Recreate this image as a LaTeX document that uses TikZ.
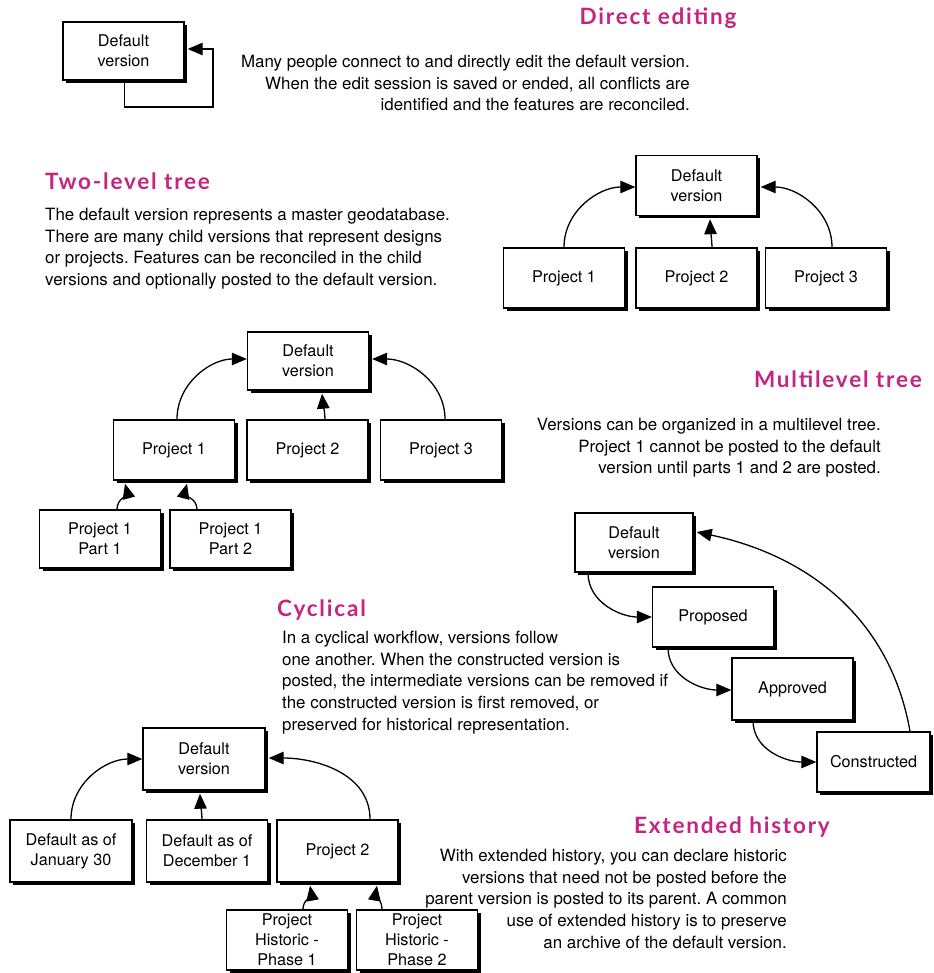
\documentclass[tikz,border=0pt]{standalone}
\usepackage{fontspec}
\setmainfont{TeX Gyre Heros}
\newfontfamily\headfont{Lato}[LetterSpace=8]
\usetikzlibrary{arrows.meta,shadows}
\definecolor{headmag}{RGB}{198,36,130}
\frenchspacing
\begin{document}
\begin{tikzpicture}[x=1pt,y=1pt,
  vbox/.style={draw=black, line width=1.4pt, fill=white, minimum width=121pt,
    minimum height=60pt, align=center, inner sep=2pt,
    font=\fontsize{16.2}{20}\selectfont,
    drop shadow={shadow xshift=3pt, shadow yshift=-3pt, opacity=1, fill=black}},
  arr/.style={line width=1.3pt, -{Triangle[length=15pt,width=12.5pt]}},
  heading/.style={inner sep=0pt, text=headmag,
    font=\headfont\bfseries\fontsize{22.5}{26}\selectfont},
  para/.style={inner sep=0pt, font=\fontsize{16.9}{21.7}\selectfont}
]
\fill[white] (0,0) rectangle (933,-973);
\useasboundingbox (0,0) rectangle (933,-973);

% ---------- Direct editing ----------
\node[heading, anchor=base] (hdirect) at (658,-25) {Direct editing};
\node[para, anchor=north east, align=right] (pdirect) at (690,-55)
  {Many people connect to and directly edit the default version.\\
   When the edit session is saved or ended, all conflicts are\\
   identified and the features are reconciled.};
\node[vbox, minimum height=58pt] (s1) at (123.5,-51) {Default\\version};
\coordinate (s1loop) at (213,-107);
\draw[arr] ([xshift=1pt]s1.south) |- (s1loop) |- ([xshift=3pt,yshift=2pt]s1.east);

% ---------- Two-level tree ----------
\node[heading, anchor=base west] (htwo) at (45,-190) {Two-level tree};
\node[para, anchor=north west, align=left] (ptwo) at (45,-208)
  {The default version represents a master geodatabase.\\
   There are many child versions that represent designs\\
   or projects. Features can be reconciled in the child\\
   versions and optionally posted to the default version.};
\node[vbox] (td) at (696.5,-185.5) {Default\\version};
\node[vbox] (tp1) at (564,-278) {Project 1};
\node[vbox] (tp2) at (696.5,-278) {Project 2};
\node[vbox] (tp3) at (826,-278) {Project 3};
\draw[arr] (tp1.north) to[out=90,in=180] ([yshift=-1.5pt]td.west);
\draw[arr] ([xshift=15.5pt]tp2.north) to[out=92,in=-88] ([xshift=13.5pt,yshift=-3pt]td.south);
\draw[arr] ([xshift=6pt]tp3.north) to[out=90,in=0] ([xshift=3pt,yshift=-1.5pt]td.east);

% ---------- Multilevel tree ----------
\node[heading, anchor=base east] (hmulti) at (922,-387) {Multilevel tree};
\node[para, anchor=north east, align=right] (pmulti) at (881,-418)
  {Versions can be organized in a multilevel tree.\\
   Project 1 cannot be posted to the default\\
   version until parts 1 and 2 are posted.};
\node[vbox, minimum height=58pt] (md) at (308,-361) {Default\\version};
\node[vbox] (mp1) at (174,-450) {Project 1};
\node[vbox] (mp2) at (307.5,-450) {Project 2};
\node[vbox] (mp3) at (441,-450) {Project 3};
\node[vbox, minimum height=58pt] (mpa) at (100,-539) {Project 1\\Part 1};
\node[vbox, minimum height=58pt] (mpb) at (230.5,-539) {Project 1\\Part 2};
\draw[arr] ([xshift=3pt]mp1.north) to[out=90,in=180] ([yshift=2pt]md.west);
\draw[arr] ([xshift=17.5pt]mp2.north) to[out=92,in=-85] ([xshift=14pt,yshift=-3pt]md.south);
\draw[arr] ([xshift=4pt]mp3.north) to[out=90,in=0] ([xshift=3pt,yshift=2pt]md.east);
\draw[arr] ([xshift=17pt]mpa.north) to[out=90,in=-75] ([xshift=-49pt,yshift=-3pt]mp1.south);
\draw[arr] ([xshift=-33.5pt]mpb.north) to[out=90,in=-105] ([xshift=13pt,yshift=-3pt]mp1.south);

% ---------- Cyclical ----------
\node[heading, anchor=base west] (hcyc) at (277,-616) {Cyclical};
\node[para, anchor=north west, align=left] (pcyc) at (282,-631)
  {In a cyclical workflow, versions follow\\
   one another. When the constructed version is\\
   posted, the intermediate versions can be removed if\\
   the constructed version is first removed, or\\
   preserved for historical representation.};
\node[vbox, minimum width=118pt, minimum height=59pt] (cd) at (634,-542.5) {Default\\version};
\node[vbox] (cp) at (713,-617) {Proposed};
\node[vbox, minimum height=62pt] (ca) at (792.5,-689) {Approved};
\node[vbox, minimum width=113pt] (cc) at (873.5,-762) {Constructed};
\draw[arr] ([xshift=-46pt]cd.south) to[out=-90,in=180] (cp.west);
\draw[arr] ([xshift=-45pt]cp.south) to[out=-90,in=180] ([yshift=-1pt]ca.west);
\draw[arr] ([xshift=-39.5pt]ca.south) to[out=-90,in=180] (cc.west);
\draw[arr] ([xshift=36.5pt]cc.north) to[out=100,in=-12] ([xshift=3pt,yshift=10.5pt]cd.east);

% ---------- Extended history ----------
\node[heading, anchor=base east] (hext) at (830,-833) {Extended history};
\node[para, anchor=north east, align=right] (pext) at (787,-849)
  {With extended history, you can declare historic\\
   versions that need not be posted before the\\
   parent version is posted to its parent. A common\\
   use of extended history is to preserve\\
   an archive of the default version.};
\node[vbox, minimum width=122pt, minimum height=62pt] (ed) at (204,-759) {Default\\version};
\node[vbox, minimum width=122pt, minimum height=62pt] (ej) at (71,-851) {Default as of\\January 30};
\node[vbox, minimum height=62pt] (ec) at (207,-851) {Default as of\\December 1};
\node[vbox, minimum height=62pt] (ep) at (337.5,-851) {Project 2};
\node[vbox] (eh1) at (287,-940) {Project\\Historic -\\Phase 1};
\node[vbox] (eh2) at (417,-940) {Project\\Historic -\\Phase 2};
\draw[arr] (ej.north) to[out=90,in=180] (ed.west);
\draw[arr] ([xshift=-5pt]ec.north) to[out=92,in=-88] ([xshift=-4pt,yshift=-3pt]ed.south);
\draw[arr] ([xshift=32.5pt]ep.north) to[out=90,in=0] ([xshift=3pt,yshift=1pt]ed.east);
\draw[arr] ([xshift=16pt]eh1.north) to[out=90,in=-80] ([xshift=-27.5pt,yshift=-3pt]ep.south);
\draw[arr] ([xshift=-35pt]eh2.north) to[out=90,in=-100] ([xshift=39.5pt,yshift=-3pt]ep.south);
\end{tikzpicture}
\end{document}
